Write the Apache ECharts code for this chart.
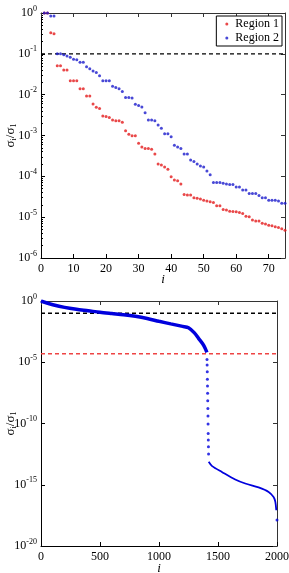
<!DOCTYPE html>
<html>
<head>
<meta charset="utf-8">
<script src="https://cdn.jsdelivr.net/npm/echarts@6/dist/echarts.min.js"></script>
<style>
	html, body { margin: 0; padding: 0; background: #fff; }
	#chart { width: 289px; height: 573px; }
</style>
</head>
<body>
<div id="chart"></div>
<script>
// 上图: sigma_i / sigma_1, i = 1..75
var region1 = [1, 1, 0.33, 0.31, 5.1e-2, 5.1e-2, 4.0e-2, 4.0e-2, 2.2e-2, 2.2e-2,
	2.2e-2, 1.4e-2, 1.4e-2, 9.3e-3, 9.3e-3, 5.9e-3, 4.9e-3, 4.6e-3, 3.0e-3, 2.9e-3,
	2.75e-3, 2.4e-3, 2.3e-3, 2.3e-3, 2.1e-3, 1.3e-3, 1.07e-3, 9.8e-4, 9.8e-4, 6.5e-4,
	5.2e-4, 4.8e-4, 4.8e-4, 4.6e-4, 3.5e-4, 2.0e-4, 1.9e-4, 1.7e-4, 1.5e-4, 9.8e-5,
	8.1e-5, 7.8e-5, 6.5e-5, 3.6e-5, 3.5e-5, 3.5e-5, 3.0e-5, 2.9e-5, 2.8e-5, 2.6e-5,
	2.5e-5, 2.4e-5, 2.3e-5, 1.9e-5, 1.9e-5, 1.55e-5, 1.5e-5, 1.4e-5, 1.38e-5, 1.35e-5,
	1.3e-5, 1.23e-5, 1.05e-5, 1.02e-5, 8.5e-6, 8.1e-6, 8.1e-6, 7.1e-6, 6.8e-6, 6.3e-6,
	6.2e-6, 5.8e-6, 5.6e-6, 5.2e-6, 4.8e-6];
var region2 = [1, 1, 0.85, 0.85, 0.1, 0.1, 9.5e-2, 8.9e-2, 8.3e-2, 7.4e-2,
	7.2e-2, 6.2e-2, 6.2e-2, 4.8e-2, 4.3e-2, 3.8e-2, 3.5e-2, 2.9e-2, 2.2e-2, 2.2e-2,
	2.2e-2, 1.6e-2, 1.5e-2, 1.4e-2, 1.2e-2, 8.5e-3, 8.5e-3, 8.3e-3, 5.8e-3, 5.4e-3,
	5.0e-3, 3.6e-3, 2.4e-3, 2.4e-3, 2.3e-3, 1.8e-3, 1.5e-3, 1.1e-3, 1.1e-3, 9.3e-4,
	5.8e-4, 5.2e-4, 4.8e-4, 3.5e-4, 3.5e-4, 2.5e-4, 2.3e-4, 2.0e-4, 1.8e-4, 1.7e-4,
	1.35e-4, 1.1e-4, 7.1e-5, 7.1e-5, 7.1e-5, 6.8e-5, 6.5e-5, 6.3e-5, 6.3e-5, 5.5e-5,
	5.5e-5, 4.6e-5, 4.6e-5, 3.8e-5, 3.8e-5, 3.8e-5, 3.4e-5, 3.0e-5, 3.0e-5, 2.6e-5,
	2.6e-5, 2.6e-5, 2.5e-5, 2.2e-5, 2.2e-5];

// 下图: 连续部分 / 陡降的点 / 尾部
var curveIdx = [0, 30, 100, 200, 300, 400, 500, 600, 700, 800, 900, 1000, 1100, 1200, 1250, 1300, 1335, 1370, 1392, 1406];
var curveVal = [1, 0.79, 0.5, 0.3, 0.21, 0.16, 0.12, 0.095, 0.076, 0.056, 0.037, 0.022, 0.0135, 0.0085, 0.0066, 0.0025, 8.9e-4, 3.2e-4, 1.35e-4, 6.3e-5];
var dropIdx = [1407, 1408, 1409, 1410, 1411, 1412, 1413, 1414, 1415, 1416, 1417, 1418, 1419, 1420, 2000];
var dropVal = [1.7e-5, 5.9e-6, 1.7e-6, 4.0e-7, 1.15e-7, 2.9e-8, 7.2e-9, 1.7e-9, 4.0e-10, 8.9e-11, 1.55e-11, 4.4e-12, 1.26e-12, 3.2e-13, 1.3e-18];
var tailIdx = [1421, 1450, 1533, 1646, 1731, 1844, 1929, 1971, 1986, 1994];
var tailVal = [7.4e-14, 3.3e-14, 1.1e-14, 2.7e-15, 1.26e-15, 6.0e-16, 2.6e-16, 1.0e-16, 4.0e-17, 8.3e-18];

var topCutoff = 0.1;
var bottomCutoffs = [0.1, 5e-5];

var serif = 'Liberation Serif';

function pairs(xs, ys) {
	return ys.map(function(v, k) {
		return [xs[k], v];
	});
}

function byIndex(ys) {
	return ys.map(function(v, k) {
		return [k + 1, v];
	});
}

function powLabel(v) {
	var e = Math.round(Math.log(v) / Math.LN10);
	return '{b|10}{s|' + e + '}';
}

var labelRich = {
	b : { fontFamily : serif, fontSize : 12, color : '#000' },
	s : { fontFamily : serif, fontSize : 8, color : '#000', padding : [ 0, 0, 9, 0 ] }
};

var nameRich = {
	g : { fontFamily : serif, fontSize : 13, color : '#000' },
	sub : { fontFamily : serif, fontSize : 8, color : '#000', padding : [ 7, 0, 0, 0 ] }
};

function xMain(grid, max, interval, gap) {
	return {
		type : 'value', gridIndex : grid, min : 0, max : max, interval : interval,
		name : 'i', nameLocation : 'middle', nameGap : gap, nameMoveOverlap : false,
		nameTextStyle : { fontFamily : serif, fontStyle : 'italic', fontSize : 13, color : '#000' },
		axisLine : { onZero : false, lineStyle : { color : '#000', width : 1 } },
		axisTick : { inside : true, length : 4, lineStyle : { color : '#000' } },
		axisLabel : {
			fontFamily : serif, fontSize : 12, color : '#000', margin : 5,
			showMaxLabel : max % interval === 0,
			formatter : function(v) { return String(v); }
		},
		splitLine : { show : false }
	};
}

function xSide(grid, max, interval) {
	return {
		type : 'value', gridIndex : grid, position : 'top', min : 0, max : max, interval : interval,
		axisLine : { onZero : false, lineStyle : { color : '#333', width : 1 } },
		axisTick : { inside : true, length : 4, lineStyle : { color : '#333' } },
		axisLabel : { show : false },
		splitLine : { show : false }
	};
}

function yMain(grid, min, interval) {
	return {
		type : 'log', gridIndex : grid, min : min, max : 1, interval : interval,
		name : '{g|σ}{sub|i}{g|/σ}{sub|1}', nameLocation : 'middle', nameGap : 23, nameMoveOverlap : false,
		nameTextStyle : { rich : nameRich },
		axisLine : { onZero : false, lineStyle : { color : '#000', width : 1 } },
		axisTick : { inside : true, length : 4, lineStyle : { color : '#000' } },
		minorTick : { show : interval === 1, splitNumber : 9, length : 2, lineStyle : { color : '#000' } },
		axisLabel : { formatter : powLabel, rich : labelRich, margin : 4 },
		splitLine : { show : false }
	};
}

function ySide(grid, min, interval) {
	return {
		type : 'log', gridIndex : grid, position : 'right', min : min, max : 1, interval : interval,
		axisLine : { onZero : false, lineStyle : { color : '#333', width : 1 } },
		axisTick : { inside : true, length : 4, lineStyle : { color : '#333' } },
		axisLabel : { show : false },
		splitLine : { show : false }
	};
}

// 虚线阈值, 画成两点的折线
function cutLine(xIdx, yIdx, xMax, value, color) {
	return {
		type : 'line', xAxisIndex : xIdx, yAxisIndex : yIdx,
		showSymbol : false, silent : true, z : 1,
		color : color,
		lineStyle : { color : color, type : [ 4, 3 ], width : 1.4, opacity : 1 },
		data : [ [ 0, value ], [ xMax, value ] ]
	};
}

var chart = echarts.init(document.getElementById('chart'));
chart.setOption({
	animation : false,
	backgroundColor : '#fff',
	grid : [ {
		left : 41, right : 4, top : 13, bottom : 315, outerBoundsMode : 'none', containLabel : false
	}, {
		left : 41, right : 12, top : 301, bottom : 27, outerBoundsMode : 'none', containLabel : false
	} ],
	legend : {
		data : [ 'Region 1', 'Region 2' ],
		orient : 'vertical',
		right : 7, top : 16,
		icon : 'circle', itemWidth : 3, itemHeight : 3, itemGap : 2,
		padding : [ 2, 3, 2, 9 ],
		borderColor : '#000', borderWidth : 1, backgroundColor : '#fff',
		textStyle : { fontFamily : serif, fontSize : 12, color : '#000', padding : [ 0, 0, 0, 2 ] }
	},
	xAxis : [ xMain(0, 75, 10, 15), xSide(0, 75, 10), xMain(1, 2000, 500, 16), xSide(1, 2000, 500) ],
	yAxis : [ yMain(0, 1e-6, 1), ySide(0, 1e-6, 1), yMain(1, 1e-20, 5), ySide(1, 1e-20, 5) ],
	series : [
		cutLine(0, 0, 75, topCutoff, '#000'),
		{
			name : 'Region 1',
			type : 'scatter', xAxisIndex : 0, yAxisIndex : 0,
			symbolSize : 3,
			itemStyle : { color : '#e31a1c' },
			data : byIndex(region1)
		}, {
			name : 'Region 2',
			type : 'scatter', xAxisIndex : 0, yAxisIndex : 0,
			symbolSize : 3,
			itemStyle : { color : '#1a1acc' },
			data : byIndex(region2)
		},
		cutLine(2, 2, 2000, bottomCutoffs[0], '#000'),
		cutLine(2, 2, 2000, bottomCutoffs[1], '#ee4444'),
		{
			type : 'line', xAxisIndex : 2, yAxisIndex : 2,
			showSymbol : false, smooth : 0.3, z : 3,
			lineStyle : { color : '#0000dd', width : 3.5 },
			data : pairs(curveIdx, curveVal)
		}, {
			type : 'scatter', xAxisIndex : 2, yAxisIndex : 2,
			symbolSize : 3, z : 3,
			itemStyle : { color : '#0000dd' },
			data : pairs(dropIdx, dropVal)
		}, {
			type : 'line', xAxisIndex : 2, yAxisIndex : 2,
			showSymbol : false, smooth : 0.3, z : 3,
			lineStyle : { color : '#0000dd', width : 1.8 },
			data : pairs(tailIdx, tailVal)
		}
	]
});
</script>
</body>
</html>
